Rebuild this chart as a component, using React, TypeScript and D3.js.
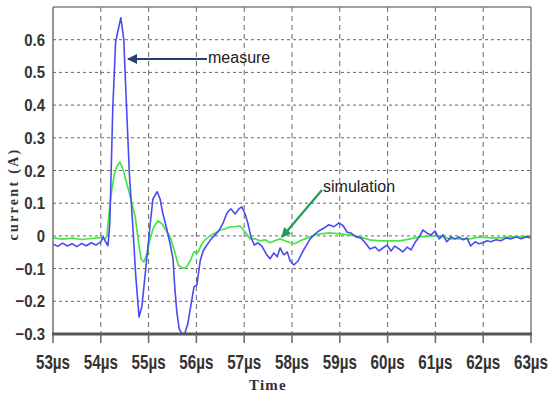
import React from "react";
import * as d3 from "d3";

// Time axis (µs) and current (A) for the measured trace
const measureTime = [
  53.0, 53.1, 53.2, 53.3, 53.4, 53.5, 53.6, 53.7, 53.8, 53.9, 54.0, 54.05, 54.1, 54.15,
  54.19, 54.25, 54.31, 54.38, 54.42, 54.48, 54.54, 54.6, 54.67, 54.73, 54.8, 54.86,
  54.92, 55.03, 55.09, 55.18, 55.24, 55.3, 55.38, 55.45, 55.51, 55.55, 55.59, 55.64,
  55.7, 55.76, 55.82, 55.89, 55.95, 56.01, 56.08, 56.14, 56.22, 56.31, 56.39, 56.47,
  56.56, 56.64, 56.72, 56.81, 56.89, 56.95, 57.02, 57.08, 57.14, 57.21, 57.29, 57.37,
  57.46, 57.54, 57.62, 57.69, 57.75, 57.83, 57.9, 57.96, 58.04, 58.13, 58.21, 58.29,
  58.38, 58.46, 58.56, 58.67, 58.77, 58.88, 58.98, 59.07, 59.15, 59.23, 59.34, 59.44,
  59.55, 59.63, 59.74, 59.82, 59.9, 59.99, 60.07, 60.15, 60.24, 60.32, 60.41, 60.49,
  60.57, 60.66, 60.74, 60.82, 60.91, 60.99, 61.08, 61.16, 61.24, 61.33, 61.41, 61.49,
  61.58, 61.66, 61.74, 61.83, 61.91, 62.0, 62.08, 62.16, 62.27, 62.37, 62.48, 62.58,
  62.69, 62.79, 62.9, 63.0,
];
const measureCurrent = [
  -0.025, -0.032, -0.022, -0.031, -0.024, -0.033, -0.023, -0.03, -0.021, -0.028, -0.018, -0.003, -0.018, -0.03,
  0.043, 0.388, 0.593, 0.642, 0.667, 0.602, 0.388, 0.183, 0.03, -0.12, -0.248, -0.215,
  -0.13, 0.031, 0.113, 0.135, 0.113, 0.067, 0.021, -0.024, -0.07, -0.162, -0.232, -0.284,
  -0.3, -0.297, -0.269, -0.208, -0.156, -0.15, -0.076, -0.046, -0.028, -0.009, 0.003, 0.015,
  0.04, 0.07, 0.083, 0.067, 0.083, 0.089, 0.067, 0.037, -0.003, -0.028, -0.021, -0.031,
  -0.055, -0.07, -0.052, -0.064, -0.037, -0.058, -0.049, -0.076, -0.089, -0.076, -0.052, -0.031,
  -0.009, 0.003, 0.015, 0.024, 0.034, 0.028, 0.04, 0.031, 0.012, 0.009, -0.003, -0.006,
  -0.024, -0.04, -0.034, -0.046, -0.037, -0.028, -0.046, -0.031, -0.04, -0.049, -0.034, -0.043,
  -0.021, -0.003, 0.018, 0.009, 0.003, 0.015, -0.009, 0.003, -0.018, -0.003, -0.009, -0.003,
  -0.012, -0.006, -0.031, -0.018, -0.024, -0.021, -0.015, -0.018, -0.012, -0.015, -0.006, -0.009,
  -0.003, -0.009, -0.003, -0.006,
];

// Time axis (µs) and current (A) for the simulated trace
const simTime = [
  53.0, 53.2, 53.4, 53.6, 53.8, 54.0, 54.08, 54.13,
  54.15, 54.21, 54.28, 54.34, 54.4, 54.46, 54.53, 54.59, 54.65, 54.72, 54.78, 54.84,
  54.9, 54.97, 55.03, 55.11, 55.2, 55.28, 55.36, 55.45, 55.53, 55.62, 55.7, 55.78,
  55.87, 55.95, 56.03, 56.1, 56.18, 56.28, 56.39, 56.49, 56.6, 56.7, 56.81, 56.91,
  57.02, 57.12, 57.23, 57.33, 57.44, 57.54, 57.64, 57.75, 57.85, 57.96, 58.06, 58.17,
  58.27, 58.38, 58.48, 58.59, 58.79, 59.0, 59.21, 59.42, 59.63, 59.84, 60.05, 60.26,
  60.47, 60.68, 60.89, 61.1, 61.31, 61.51, 61.72, 61.93, 62.14, 62.35, 62.56, 62.77, 63.0,
];
const simCurrent = [
  -0.006, -0.01, -0.007, -0.011, -0.008, -0.005, -0.01, 0.0,
  0.037, 0.119, 0.187, 0.214, 0.226, 0.205, 0.168, 0.135, 0.1, 0.058, -0.009, -0.07,
  -0.08, -0.055, -0.009, 0.028, 0.046, 0.037, 0.018, -0.003, -0.04, -0.089, -0.098, -0.098,
  -0.076, -0.049, -0.052, -0.028, -0.012, 0.0, 0.009, 0.018, 0.021, 0.028, 0.028, 0.031,
  0.012, -0.009, -0.009, -0.015, -0.012, -0.021, -0.015, -0.009, -0.015, -0.021, -0.024, -0.015,
  -0.009, -0.003, 0.003, 0.006, 0.009, 0.006, 0.003, -0.003, -0.012, -0.015, -0.015, -0.015,
  -0.009, -0.003, 0.0, 0.0, -0.009, -0.009, -0.009, -0.003, -0.006, -0.006, -0.003, -0.003, 0.0,
];

const xTicks = [53, 54, 55, 56, 57, 58, 59, 60, 61, 62, 63];
const yTicks = [-0.3, -0.2, -0.1, 0, 0.1, 0.2, 0.3, 0.4, 0.5, 0.6];

const W = 548;
const H = 393;
const left = 53;
const right = 531;
const top = 7;
const bottom = 334;

const sans = "'Liberation Sans', Arial, sans-serif";
const serif = "'Liberation Serif', 'DejaVu Serif', serif";

export default function App() {
  const x = d3.scaleLinear().domain([53, 63]).range([left, right]);
  const y = d3.scaleLinear().domain([-0.3, 0.7]).range([bottom, top]);

  const line = d3
    .line<[number, number]>()
    .x((d) => x(d[0]))
    .y((d) => y(d[1]));

  const measurePts = measureTime.map((t, i) => [t, measureCurrent[i]] as [number, number]);
  const simPts = simTime.map((t, i) => [t, simCurrent[i]] as [number, number]);

  const fmtY = (v: number) => (Math.abs(v) < 1e-9 ? "0" : d3.format(".1f")(v));

  return (
    <svg
      width={W}
      height={H}
      style={{ position: "absolute", left: 0, top: 0, background: "#fff" }}
    >
      <defs>
        <marker id="headNavy" viewBox="0 0 10 10" refX="9" refY="5" markerWidth="5" markerHeight="5" orient="auto-start-reverse">
          <path d="M0,0 L10,5 L0,10 z" fill="#25406f" />
        </marker>
        <marker id="headGreen" viewBox="0 0 10 10" refX="9" refY="5" markerWidth="4.5" markerHeight="4.5" orient="auto-start-reverse">
          <path d="M0,0 L10,5 L0,10 z" fill="#1f9e57" />
        </marker>
      </defs>

      {/* grid */}
      {yTicks
        .filter((v) => v > -0.3 + 1e-9)
        .map((v) => (
          <line key={"gy" + v} x1={left} x2={right} y1={y(v)} y2={y(v)} stroke="#666" strokeWidth={1} strokeDasharray="3,3" />
        ))}
      {xTicks
        .filter((t) => t > 53 && t < 63)
        .map((t) => (
          <line key={"gx" + t} x1={x(t)} x2={x(t)} y1={top} y2={bottom} stroke="#666" strokeWidth={1} strokeDasharray="5,4" />
        ))}

      {/* traces */}
      <path d={line(simPts) ?? ""} fill="none" stroke="#44e844" strokeWidth={1.7} strokeLinejoin="round" />
      <path d={line(measurePts) ?? ""} fill="none" stroke="#4a4af2" strokeWidth={1.6} strokeLinejoin="round" />

      {/* frame */}
      <line x1={left} x2={right} y1={top} y2={top} stroke="#808080" strokeWidth={1.5} />
      <line x1={left} x2={left} y1={top} y2={bottom} stroke="#707070" strokeWidth={1.5} />
      <line x1={right} x2={right} y1={top} y2={bottom} stroke="#808080" strokeWidth={1.5} />
      <line x1={left - 1} x2={right + 1} y1={bottom} y2={bottom} stroke="#555" strokeWidth={3} />

      {/* x axis ticks and labels */}
      {xTicks.map((t) => (
        <g key={"xt" + t}>
          <line x1={x(t)} x2={x(t)} y1={bottom} y2={bottom + 9} stroke="#666" strokeWidth={1.5} />
          <text
            transform={`translate(${x(t)},369) scale(0.76,1)`}
            textAnchor="middle"
            fontFamily={sans}
            fontWeight="bold"
            fontSize={20}
            fill="#333"
          >
            {t}µs
          </text>
        </g>
      ))}

      {/* y axis labels */}
      {yTicks.map((v) => (
        <text
          key={"yt" + v}
          transform={`translate(45,${y(v) + 6}) scale(0.88,1)`}
          textAnchor="end"
          fontFamily={sans}
          fontWeight="bold"
          fontSize={17}
          fill="#333"
        >
          {fmtY(v)}
        </text>
      ))}

      {/* axis titles */}
      <text
        transform="translate(18,194) rotate(-90)"
        textAnchor="middle"
        fontFamily={serif}
        fontWeight="bold"
        fontSize={14}
        letterSpacing={2.3}
        fill="#333"
      >
        current (A)
      </text>
      <text x={268} y={390} textAnchor="middle" fontFamily={serif} fontWeight="bold" fontSize={15} letterSpacing={1.2} fill="#333">
        Time
      </text>

      {/* annotations */}
      <line x1={207} y1={59} x2={128} y2={59} stroke="#25406f" strokeWidth={2} markerEnd="url(#headNavy)" />
      <text x={208} y={63} fontFamily={sans} fontSize={16} fill="#222">
        measure
      </text>
      <line x1={322} y1={190} x2={282} y2={237} stroke="#1f9e57" strokeWidth={2.2} markerEnd="url(#headGreen)" />
      <text x={323} y={192} fontFamily={sans} fontSize={16} fill="#222">
        simulation
      </text>
    </svg>
  );
}
